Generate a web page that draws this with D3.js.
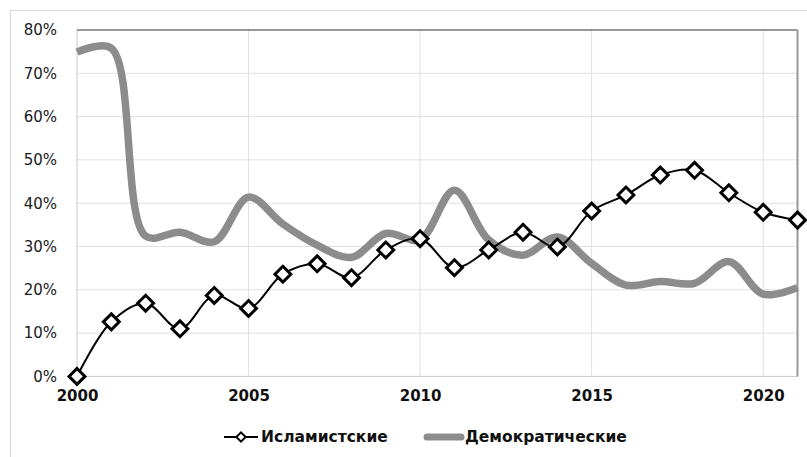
<!DOCTYPE html>
<html>
<head>
<meta charset="utf-8">
<script src="https://cdn.jsdelivr.net/npm/d3@7"></script>
<style>
  body { margin: 0; background: #fff; }
  text { font-family: "DejaVu Sans", Verdana, sans-serif; }
</style>
</head>
<body>
<svg id="chart" width="807" height="457"></svg>
<script>
var years = d3.range(2000, 2022);
var islamist = [0, 12.6, 16.9, 11.0, 18.7, 15.7, 23.6, 26.0, 22.8, 29.2, 31.8,
                25.1, 29.2, 33.3, 29.9, 38.2, 41.9, 46.5, 47.6, 42.4, 37.9, 36.1];
var democratic = [74.9, 75.8, 32.4, 33.3, 31.1, 41.4, 35.2, 30.3, 27.5, 33.0, 31.6,
                  43.0, 31.5, 28.0, 32.2, 26.1, 21.1, 21.9, 21.5, 26.5, 19.0, 20.5];
var yTicks = [0, 10, 20, 30, 40, 50, 60, 70, 80];
var xTicks = [2000, 2005, 2010, 2015, 2020];
var seriesNames = ['Исламистские', 'Демократические'];

var svg = d3.select('#chart');
var plotLeft = 77, plotRight = 797.5, plotTop = 30, plotBottom = 376.4;

var x = d3.scaleLinear().domain([2000, 2021]).range([plotLeft, plotRight]);
var y = d3.scaleLinear().domain([0, 80]).range([plotBottom, plotTop]);

// outer frame
svg.append('rect')
    .attr('x', 10.5).attr('y', 10.5)
    .attr('width', 810).attr('height', 460)
    .attr('fill', 'none')
    .attr('stroke', '#d9d9d9');

// grid
svg.append('g')
    .selectAll('line')
    .data(yTicks.slice(1, -1))
    .enter().append('line')
    .attr('x1', plotLeft).attr('x2', plotRight)
    .attr('y1', d => y(d)).attr('y2', d => y(d))
    .attr('stroke', '#e0e0e0');

svg.append('g')
    .selectAll('line')
    .data(xTicks.slice(1))
    .enter().append('line')
    .attr('x1', d => x(d)).attr('x2', d => x(d))
    .attr('y1', plotTop).attr('y2', plotBottom)
    .attr('stroke', '#e0e0e0');

// plot borders
svg.append('line').attr('x1', plotLeft).attr('x2', plotLeft).attr('y1', plotTop).attr('y2', plotBottom)
    .attr('stroke', '#c8c8c8');
svg.append('line').attr('x1', plotLeft).attr('x2', plotRight).attr('y1', plotBottom).attr('y2', plotBottom)
    .attr('stroke', '#c8c8c8');
svg.append('line').attr('x1', plotLeft).attr('x2', plotRight).attr('y1', plotTop).attr('y2', plotTop)
    .attr('stroke', '#333');
svg.append('line').attr('x1', plotRight).attr('x2', plotRight).attr('y1', plotTop).attr('y2', plotBottom)
    .attr('stroke', '#999').attr('stroke-width', 2);

// axes labels
var yAxis = d3.axisLeft(y).tickValues(yTicks).tickSize(0).tickPadding(20)
    .tickFormat(d => d + '%');
svg.append('g')
    .attr('transform', 'translate(' + plotLeft + ',0)')
    .call(yAxis)
    .call(g => g.select('.domain').remove())
    .selectAll('text')
    .attr('font-size', 15)
    .attr('fill', '#1a1a1a')
    .style('font-family', '"DejaVu Sans", sans-serif');

var xAxis = d3.axisBottom(x).tickValues(xTicks).tickSize(0).tickPadding(14)
    .tickFormat(d3.format('d'));
svg.append('g')
    .attr('transform', 'translate(0,' + plotBottom + ')')
    .call(xAxis)
    .call(g => g.select('.domain').remove())
    .selectAll('text')
    .attr('font-size', 15)
    .attr('font-weight', 'bold')
    .attr('fill', '#111')
    .style('font-family', '"DejaVu Sans", sans-serif');

// lines
var line = d3.line()
    .x((d, i) => x(years[i]))
    .y(d => y(d))
    .curve(d3.curveCatmullRom.alpha(0.5));

svg.append('path')
    .datum(democratic)
    .attr('fill', 'none')
    .attr('stroke', '#8c8c8c')
    .attr('stroke-width', 7.5)
    .attr('stroke-linejoin', 'round')
    .attr('d', line);

svg.append('path')
    .datum(islamist)
    .attr('fill', 'none')
    .attr('stroke', '#000')
    .attr('stroke-width', 2)
    .attr('d', line);

var diamond = d3.symbol().type(d3.symbolDiamond2).size(160);
svg.append('g')
    .selectAll('path')
    .data(islamist)
    .enter().append('path')
    .attr('transform', (d, i) => 'translate(' + x(years[i]) + ',' + y(d) + ')')
    .attr('d', diamond)
    .attr('fill', '#fff')
    .attr('stroke', '#000')
    .attr('stroke-width', 3);

// legend
var legY = 437;
var leg = svg.append('g');
leg.append('line').attr('x1', 224).attr('x2', 258).attr('y1', legY).attr('y2', legY)
    .attr('stroke', '#000').attr('stroke-width', 2);
leg.append('path')
    .attr('transform', 'translate(241,' + legY + ')')
    .attr('d', d3.symbol().type(d3.symbolDiamond2).size(55))
    .attr('fill', '#fff').attr('stroke', '#000').attr('stroke-width', 2);
leg.append('text').attr('x', 261).attr('y', legY).attr('dy', '0.35em')
    .attr('font-size', 15.5).attr('font-weight', 'bold').attr('fill', '#111')
    .text(seriesNames[0]);
leg.append('line').attr('x1', 427).attr('x2', 461).attr('y1', legY).attr('y2', legY)
    .attr('stroke', '#8c8c8c').attr('stroke-width', 7).attr('stroke-linecap', 'round');
leg.append('text').attr('x', 465).attr('y', legY).attr('dy', '0.35em')
    .attr('font-size', 15.5).attr('font-weight', 'bold').attr('fill', '#111')
    .text(seriesNames[1]);
</script>
</body>
</html>
